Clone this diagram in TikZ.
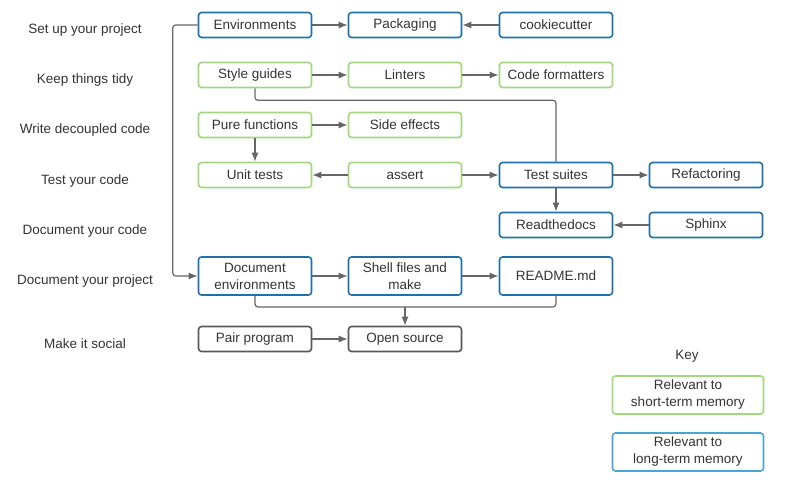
\documentclass[tikz,border=0pt]{standalone}
\usepackage{fontspec}
\setmainfont{Liberation Sans}
\usetikzlibrary{arrows.meta}
\definecolor{linkgray}{HTML}{666666}
\definecolor{txtgray}{HTML}{333333}
\definecolor{longblue}{HTML}{2171A8}
\definecolor{shortgreen}{HTML}{A2D67F}
\definecolor{keyblue}{HTML}{4AA5D2}
\definecolor{socialgray}{HTML}{595959}
\tikzset{
  box/.style={draw,rounded corners=3pt,line width=1.6pt,minimum width=113pt,
    minimum height=25pt,inner sep=1pt,align=center,text=txtgray,
    font=\fontsize{13.5}{17}\selectfont},
  longbox/.style={box,draw=longblue},
  shortbox/.style={box,draw=shortgreen},
  socialbox/.style={box,draw=socialgray},
  tallbox/.style={minimum height=38pt},
  keybox/.style={box,minimum width=151pt,minimum height=38pt},
  stage/.style={text=txtgray,font=\fontsize{13.5}{17}\selectfont},
  link/.style={draw=linkgray,line width=1.2pt,rounded corners=3pt},
}
\begin{document}
\begin{tikzpicture}[x=1pt,y=-1pt,>={Latex[length=9pt,width=7pt]}]
\useasboundingbox (0,0) rectangle (788,485);
% columns and rows
\coordinate (C1R1) at (255,25);
\coordinate (C2R1) at (405,25);
\coordinate (C3R1) at (556,25);
\coordinate (C1R2) at (255,75);
\coordinate (C2R2) at (405,75);
\coordinate (C3R2) at (556,75);
\coordinate (C1R3) at (255,125);
\coordinate (C2R3) at (405,125);
\coordinate (C1R4) at (255,175);
\coordinate (C2R4) at (405,175);
\coordinate (C3R4) at (556,175);
\coordinate (C4R4) at (706,175);
\coordinate (C3R5) at (556,225);
\coordinate (C4R5) at (706,225);
\coordinate (C1R6) at (255,276);
\coordinate (C2R6) at (405,276);
\coordinate (C3R6) at (556,276);
\coordinate (C1R7) at (255,339);
\coordinate (C2R7) at (405,339);
\coordinate (merge) at (405,307);
% stages
\node[stage] (s1) at (85,30) {Set up your project};
\node[stage] (s2) at (85,80) {Keep things tidy};
\node[stage] (s3) at (85,130) {Write decoupled code};
\node[stage] (s4) at (85,181) {Test your code};
\node[stage] (s5) at (85,231) {Document your code};
\node[stage] (s6) at (85,281) {Document your project};
\node[stage] (s7) at (85,344) {Make it social};
% boxes
\node[longbox] (env) at (C1R1) {Environments};
\node[longbox] (pack) at (C2R1) {Packaging};
\node[longbox] (cookie) at (C3R1) {cookiecutter};
\node[shortbox] (style) at (C1R2) {Style guides};
\node[shortbox] (lint) at (C2R2) {Linters};
\node[shortbox] (fmt) at (C3R2) {Code formatters};
\node[shortbox] (pure) at (C1R3) {Pure functions};
\node[shortbox] (side) at (C2R3) {Side effects};
\node[shortbox] (unit) at (C1R4) {Unit tests};
\node[shortbox] (assert) at (C2R4) {assert};
\node[longbox] (suite) at (C3R4) {Test suites};
\node[longbox] (refac) at (C4R4) {Refactoring};
\node[longbox] (rtd) at (C3R5) {Readthedocs};
\node[longbox] (sphinx) at (C4R5) {Sphinx};
\node[longbox,tallbox] (docenv) at (C1R6) {Document\\environments};
\node[longbox,tallbox] (shell) at (C2R6) {Shell files and\\make};
\node[longbox,tallbox] (readme) at (C3R6) {README.md};
\node[socialbox] (pair) at (C1R7) {Pair program};
\node[socialbox] (open) at (C2R7) {Open source};
% key
\node[stage] (key) at (687,356) {Key};
\node[keybox,draw=shortgreen] (kshort) at (688,395) {Relevant to\\short-term memory};
\node[keybox,draw=keyblue] (klong) at (688,452) {Relevant to\\long-term memory};
% links
\draw[link,->] (env) -- (pack);
\draw[link,->] (cookie) -- (pack);
\draw[link,->] (env.west) -- ++(-25,0) |- (docenv.west);
\draw[link,->] (style) -- (lint);
\draw[link,->] (lint) -- (fmt);
\draw[link] (style.south) -- ++(0,12) -| (suite.north);
\draw[link,->] (pure) -- (side);
\draw[link,->] (pure) -- (unit);
\draw[link,->] (assert) -- (unit);
\draw[link,->] (assert) -- (suite);
\draw[link,->] (suite) -- (refac);
\draw[link,->] (suite) -- (rtd);
\draw[link,->] (sphinx) -- (rtd);
\draw[link,->] (docenv) -- (shell);
\draw[link,->] (shell) -- (readme);
\draw[link] (docenv.south) |- (merge);
\draw[link] (readme.south) |- (merge);
\draw[link,->] (merge) -- (open.north);
\draw[link,->] (pair) -- (open);
\end{tikzpicture}
\end{document}
